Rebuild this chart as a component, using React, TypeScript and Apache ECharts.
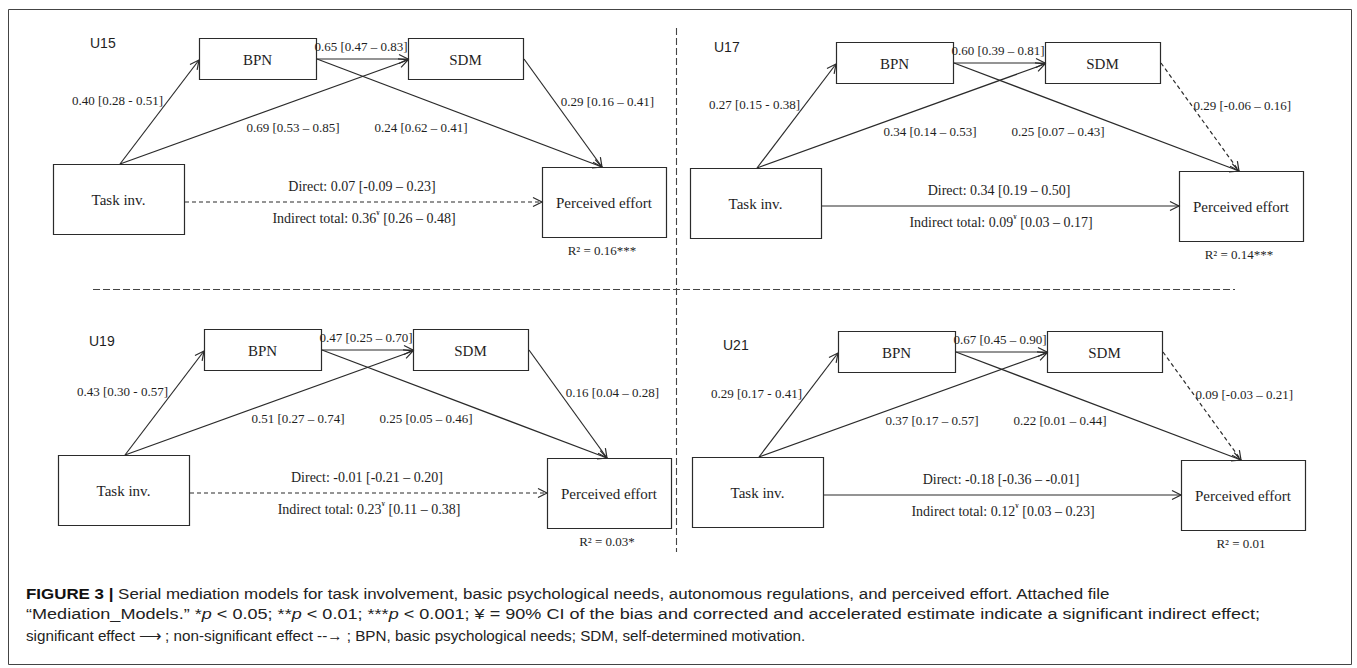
import React, { useEffect, useRef } from "react";
import * as echarts from "echarts";

// ---- Data (one entry per panel) ----
const panelNames = ["U15", "U17", "U19", "U21"];
const pathTaskBpn = ["0.40 [0.28 - 0.51]", "0.27 [0.15 - 0.38]", "0.43 [0.30 - 0.57]", "0.29 [0.17 - 0.41]"];
const pathBpnSdm = ["0.65 [0.47 – 0.83]", "0.60 [0.39 – 0.81]", "0.47 [0.25 – 0.70]", "0.67 [0.45 – 0.90]"];
const pathTaskSdm = ["0.69 [0.53 – 0.85]", "0.34 [0.14 – 0.53]", "0.51 [0.27 – 0.74]", "0.37 [0.17 – 0.57]"];
const pathBpnEffort = ["0.24 [0.62 – 0.41]", "0.25 [0.07 – 0.43]", "0.25 [0.05 – 0.46]", "0.22 [0.01 – 0.44]"];
const pathSdmEffort = ["0.29 [0.16 – 0.41]", "0.29 [-0.06 – 0.16]", "0.16 [0.04 – 0.28]", "0.09 [-0.03 – 0.21]"];
const sdmEffortSignificant = [true, false, true, false];
const directEffect = ["0.07 [-0.09 – 0.23]", "0.34 [0.19 – 0.50]", "-0.01 [-0.21 – 0.20]", "-0.18 [-0.36 – -0.01]"];
const directSignificant = [false, true, false, true];
const indirectEstimate = ["0.36", "0.09", "0.23", "0.12"];
const indirectCI = ["[0.26 – 0.48]", "[0.03 – 0.17]", "[0.11 – 0.38]", "[0.03 – 0.23]"];
const rSquared = ["0.16***", "0.14***", "0.03*", "0.01"];
const nodeLabels = { task: "Task inv.", bpn: "BPN", sdm: "SDM", effort: "Perceived effort" };

// caption lines: [text, style] segments
const captionLines: [string, string][][] = [
  [["FIGURE 3 |", "b"], [" Serial mediation models for task involvement, basic psychological needs, autonomous regulations, and perceived effort. Attached file", "n"]],
  [["“Mediation_Models.” *", "n"], ["p", "i"], [" < 0.05; **", "n"], ["p", "i"], [" < 0.01; ***", "n"], ["p", "i"], [" < 0.001; ¥ = 90% CI of the bias and corrected and accelerated estimate indicate a significant indirect effect;", "n"]],
  [["significant effect ⟶ ; non-significant effect --→ ; BPN, basic psychological needs; SDM, self-determined motivation.", "n"]],
];

// ---- Layout ----
const panelOffsets = [[0, 0], [637, 4], [5, 291], [639, 293]];
const panelTitlePos = [[90, 43], [714, 47], [89, 341], [723, 345]];
const captionY = [593, 614, 635];
const captionEndX = [1110, 1260, 806];

export default function App() {
  const ref = useRef<HTMLDivElement>(null);
  useEffect(() => {
    const chart = echarts.init(ref.current!, null, { renderer: "svg" });
    const els: any[] = [];
    const STROKE = "#2b2b2b";
    const TEXT = "#1e1e1e";
    const serif = "'Liberation Serif', 'Times New Roman', serif";
    const sans = "'Liberation Sans', Arial, sans-serif";
    const LW = 1.2;

    const txt = (x: number, y: number, text: string, size: number, align = "center", family = serif, extra: any = {}) =>
      els.push({ type: "text", x, y, silent: true, z: 5, style: { text, fontSize: size, fontFamily: family, fill: TEXT, align, verticalAlign: "middle", ...extra } });

    const box = (x: number, y: number, w: number, h: number, label: string) => {
      els.push({ type: "rect", z: 2, shape: { x: x + 0.5, y: y + 0.5, width: w, height: h }, style: { fill: "#fff", stroke: STROKE, lineWidth: LW } });
      txt(x + w / 2, y + h / 2 + 1, label, 15);
    };

    const arrow = (x1: number, y1: number, x2: number, y2: number, dashed: boolean) => {
      els.push({ type: "line", z: 3, shape: { x1, y1, x2, y2 }, style: { stroke: STROKE, lineWidth: LW, lineDash: dashed ? [4, 3] : null } });
      const dx = x2 - x1, dy = y2 - y1;
      const len = Math.sqrt(dx * dx + dy * dy);
      const ux = dx / len, uy = dy / len;
      const L = 9, W = 4.5;
      const bx = x2 - L * ux, by = y2 - L * uy;
      els.push({
        type: "polyline", z: 3,
        shape: { points: [[bx - W * uy, by + W * ux], [x2, y2], [bx + W * uy, by - W * ux]] },
        style: { stroke: STROKE, lineWidth: LW, fill: null },
      });
    };

    // outer frame
    els.push({ type: "rect", z: 1, shape: { x: 8.5, y: 9.5, width: 1343, height: 655 }, style: { fill: "#fff", stroke: "#444", lineWidth: 1 } });
    // dividers
    els.push({ type: "line", z: 1, shape: { x1: 676.5, y1: 28, x2: 676.5, y2: 552 }, style: { stroke: "#444", lineWidth: 1.1, lineDash: [7, 3] } });
    els.push({ type: "line", z: 1, shape: { x1: 93, y1: 289.5, x2: 1235, y2: 289.5 }, style: { stroke: "#444", lineWidth: 1.1, lineDash: [7, 3] } });

    panelNames.forEach((name, i) => {
      const [ox, oy] = panelOffsets[i];
      const X = (v: number) => v + ox;
      const Y = (v: number) => v + oy;
      txt(panelTitlePos[i][0], panelTitlePos[i][1], name, 14, "left", sans);

      arrow(X(120), Y(164), X(199), Y(60), false);
      arrow(X(120), Y(164), X(408), Y(60), false);
      arrow(X(317), Y(59), X(408), Y(59), false);
      arrow(X(317), Y(59), X(602), Y(167), false);
      arrow(X(524), Y(59), X(602), Y(167), !sdmEffortSignificant[i]);
      arrow(X(185), Y(202), X(542), Y(202), !directSignificant[i]);

      box(X(199), Y(38), 117, 41, nodeLabels.bpn);
      box(X(408), Y(38), 115, 41, nodeLabels.sdm);
      box(X(53), Y(164), 131, 70, nodeLabels.task);
      box(X(542), Y(167), 124, 70, nodeLabels.effort);

      txt(X(163), Y(100), pathTaskBpn[i], 13, "right");
      txt(X(361), Y(46), pathBpnSdm[i], 13, "center");
      txt(X(293), Y(127), pathTaskSdm[i], 13, "center");
      txt(X(421), Y(127), pathBpnEffort[i], 13, "center");
      txt(X(654), Y(101), pathSdmEffort[i], 13, "right");
      txt(X(362), Y(186), "Direct: " + directEffect[i], 14, "center");
      els.push({
        type: "text", x: X(364), y: Y(217), silent: true, z: 5,
        style: {
          text: "{n|Indirect total: " + indirectEstimate[i] + "}{s|¥}{n| " + indirectCI[i] + "}",
          align: "center", verticalAlign: "middle",
          rich: {
            n: { fontSize: 14, fontFamily: serif, fill: TEXT, lineHeight: 16, verticalAlign: "bottom" },
            s: { fontSize: 7, fontFamily: serif, fill: TEXT, lineHeight: 16, verticalAlign: "top", padding: [0, 0, 8, 0] },
          },
        },
      });
      txt(X(602), Y(250), "R² = " + rSquared[i], 13, "center");
    });

    // caption, each line stretched to the reference line length
    const capFont = 15.5;
    const fontFor = (k: string) =>
      (k === "b" ? "bold " : k === "i" ? "italic " : "") + capFont + "px 'Liberation Sans', Arial, sans-serif";
    const ctx = document.createElement("canvas").getContext("2d")!;
    const capX = 26;
    captionLines.forEach((segs, li) => {
      let w = 0;
      segs.forEach(([t, k]) => { ctx.font = fontFor(k); w += ctx.measureText(t).width; });
      const sx = w > 0 ? (captionEndX[li] - capX) / w : 1;
      const text = segs.map(([t, k]) => "{" + k + "|" + t + "}").join("");
      els.push({
        type: "text", x: capX, y: captionY[li], scaleX: sx, silent: true, z: 5,
        style: {
          text, verticalAlign: "middle",
          rich: {
            b: { fontSize: capFont, fontFamily: sans, fontWeight: "bold", fill: "#111" },
            n: { fontSize: capFont, fontFamily: sans, fill: "#222" },
            i: { fontSize: capFont, fontFamily: sans, fontStyle: "italic", fill: "#222" },
          },
        },
      });
    });

    chart.setOption({ animation: false, backgroundColor: "#fff", graphic: { elements: els } });
    return () => chart.dispose();
  }, []);
  return <div ref={ref} style={{ position: "fixed", left: 0, top: 0, width: 1357, height: 668, background: "#fff" }} />;
}
